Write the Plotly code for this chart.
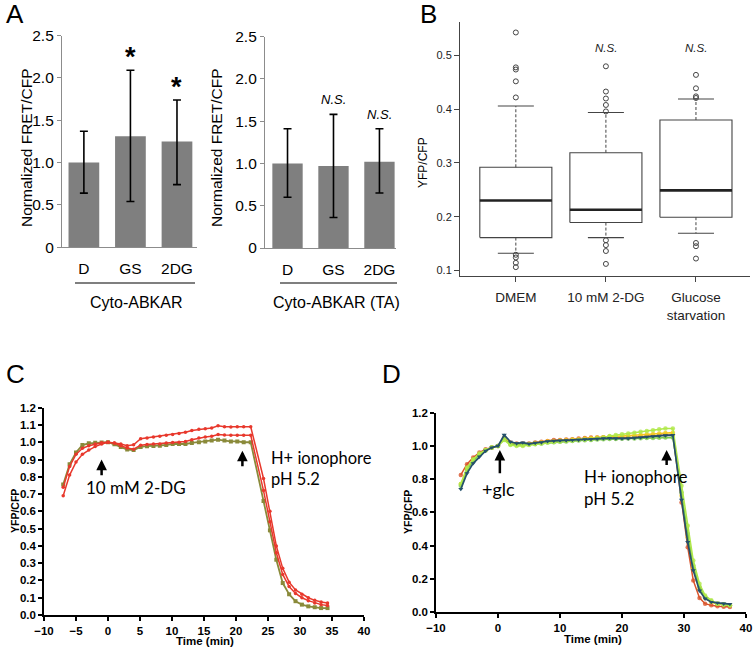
import plotly.graph_objects as go

W, H = 756, 650
def fx(p): return p / W
def fy(p): return 1 - p / H

ARIAL = "Liberation Sans, Arial, sans-serif"
CAL = "Lato, Carlito, sans-serif"

# ---------------- Panel A data ----------------
a_cats = ["D", "GS", "2DG"]
a_left_mean = [1.0, 1.31, 1.25]
a_left_low = [0.64, 0.54, 0.74]
a_left_high = [1.37, 2.09, 1.74]
a_left_sig = ["", "*", "*"]
a_right_mean = [1.0, 0.97, 1.02]
a_right_low = [0.60, 0.36, 0.65]
a_right_high = [1.41, 1.58, 1.41]
a_right_sig = ["", "N.S.", "N.S."]
a_yticks = [0, 0.5, 1.0, 1.5, 2.0, 2.5]
a_yticklabels = ["0", "0.5", "1.0", "1.5", "2.0", "2.5"]
a_left_group = "Cyto-ABKAR"
a_right_group = "Cyto-ABKAR (TA)"

# ---------------- Panel B data ----------------
b_groups = ["DMEM", "10 mM 2-DG", "Glucose<br>starvation"]
b_q1 = [0.161, 0.189, 0.199]
b_median = [0.230, 0.213, 0.249]
b_q3 = [0.292, 0.319, 0.380]
b_lower = [0.132, 0.161, 0.169]
b_upper = [0.406, 0.394, 0.419]
b_out_dmem = [0.543, 0.478, 0.474, 0.452, 0.422, 0.129, 0.124, 0.114, 0.106]
b_out_2dg = [0.480, 0.433, 0.420, 0.408, 0.396, 0.156, 0.147, 0.136, 0.112]
b_out_gs = [0.464, 0.439, 0.424, 0.421, 0.151, 0.145, 0.122]
b_sig = ["", "N.S.", "N.S."]
b_yticks = [0.1, 0.2, 0.3, 0.4, 0.5]

# ---------------- Panel C data ----------------
c_time = [-7.0, -6.0, -5.0, -4.0, -3.0, -2.0, -1.0, 0.0, 1.0, 2.0, 3.0, 4.0,
          5.1, 6.1, 7.1, 8.1, 9.1, 10.1, 11.1, 12.1, 13.1, 14.2, 15.2, 16.2,
          17.2, 18.2, 19.2, 20.2, 21.2, 22.3,
          24.3, 25.3, 26.3, 27.3, 28.3, 29.3, 30.3, 31.3, 32.3, 33.3, 34.3]
c_red1 = [0.69, 0.81, 0.885, 0.93, 0.955, 0.975, 0.99, 1.0, 0.995, 0.99, 0.98, 0.985,
          1.02, 1.025, 1.03, 1.035, 1.04, 1.045, 1.05, 1.058, 1.068, 1.075, 1.078, 1.082,
          1.095, 1.09, 1.088, 1.09, 1.09, 1.09,
          0.79, 0.60, 0.40, 0.27, 0.19, 0.145, 0.12, 0.10, 0.085, 0.075, 0.07]
c_red2 = [0.74, 0.86, 0.93, 0.965, 0.98, 0.99, 0.997, 1.0, 0.995, 0.98, 0.967, 0.96,
          0.983, 0.987, 0.99, 0.99, 0.996, 0.998, 1.0, 1.005, 1.015, 1.025, 1.03, 1.035,
          1.045, 1.042, 1.04, 1.04, 1.04, 1.04,
          0.72, 0.54, 0.36, 0.235, 0.165, 0.125, 0.10, 0.083, 0.07, 0.06, 0.055]
c_olive = [0.755, 0.872, 0.94, 0.984, 0.994, 0.997, 0.999, 1.0, 0.988, 0.973, 0.958, 0.955,
           0.973, 0.977, 0.978, 0.98, 0.984, 0.99, 0.99, 0.99, 0.996, 1.0, 1.005, 1.01,
           1.015, 1.01, 1.005, 1.005, 1.0, 1.0,
           0.66, 0.49, 0.32, 0.185, 0.12, 0.08, 0.06, 0.05, 0.045, 0.04, 0.04]

# ---------------- Panel D data ----------------
d_time = [-6, -5, -4, -3, -2, -1, 0, 1, 2, 3, 4, 5, 6, 7, 8, 9, 10, 11, 12, 13, 14,
          15, 16, 17, 18, 19, 20, 21, 22, 23, 24, 25, 26, 27, 28.2,
          29.6, 30.6, 31.5, 32.5, 33.4, 34.4, 35.4, 36.4, 37.4]
d_red = [0.825, 0.89, 0.93, 0.96, 0.98, 0.99, 1.0, 1.045, 1.02, 1.015, 1.015, 1.015, 1.02,
         1.025, 1.03, 1.035, 1.035, 1.038, 1.04, 1.045, 1.048, 1.05, 1.05, 1.052, 1.055,
         1.05, 1.05, 1.05, 1.052, 1.055, 1.058, 1.06, 1.062, 1.065, 1.065,
         0.66, 0.39, 0.19, 0.085, 0.05, 0.04, 0.035, 0.032, 0.03]
d_yellow = [0.77, 0.86, 0.915, 0.95, 0.975, 0.99, 1.0, 1.05, 1.015, 1.01, 1.01, 1.012, 1.018,
            1.022, 1.028, 1.03, 1.033, 1.035, 1.038, 1.04, 1.044, 1.047, 1.05, 1.052, 1.055,
            1.056, 1.058, 1.06, 1.063, 1.066, 1.069, 1.072, 1.075, 1.078, 1.08,
            0.70, 0.45, 0.26, 0.14, 0.085, 0.06, 0.05, 0.045, 0.04]
d_green = [0.76, 0.855, 0.91, 0.945, 0.972, 0.99, 1.0, 1.04, 1.01, 1.005, 1.005, 1.008, 1.012,
           1.015, 1.02, 1.022, 1.025, 1.027, 1.03, 1.032, 1.034, 1.036, 1.038, 1.04, 1.041,
           1.042, 1.043, 1.044, 1.045, 1.046, 1.047, 1.048, 1.049, 1.05, 1.05,
           0.72, 0.47, 0.28, 0.15, 0.09, 0.065, 0.05, 0.045, 0.04]
d_lgreen = [0.77, 0.87, 0.92, 0.955, 0.975, 0.99, 1.0, 1.035, 1.005, 1.0, 1.0, 1.005, 1.01,
            1.015, 1.02, 1.023, 1.026, 1.03, 1.033, 1.036, 1.038, 1.04, 1.045, 1.05, 1.06,
            1.065, 1.07, 1.075, 1.08, 1.085, 1.09, 1.095, 1.1, 1.105, 1.105,
            0.76, 0.52, 0.31, 0.17, 0.10, 0.07, 0.05, 0.045, 0.04]
d_navy = [0.74, 0.835, 0.895, 0.935, 0.97, 0.99, 1.0, 1.066, 1.025, 1.015, 1.02, 1.012, 1.018,
          1.02, 1.028, 1.03, 1.032, 1.033, 1.035, 1.036, 1.04, 1.04, 1.042, 1.045, 1.047,
          1.045, 1.044, 1.045, 1.048, 1.05, 1.055, 1.058, 1.06, 1.063, 1.065,
          0.675, 0.42, 0.25, 0.128, 0.08, 0.06, 0.055, 0.05, 0.048]

fig = go.Figure()

# ---------------- Panel A traces ----------------
def add_bars(means, lows, highs, xa, ya):
    fig.add_trace(go.Bar(
        x=list(range(len(means))), y=means, width=0.66,
        marker=dict(color="#7f7f7f", line=dict(width=0)),
        error_y=dict(type="data", symmetric=False,
                     array=[h - m for h, m in zip(highs, means)],
                     arrayminus=[m - l for m, l in zip(means, lows)],
                     color="black", thickness=1.6, width=4),
        xaxis=xa, yaxis=ya, showlegend=False, hoverinfo="skip"))

add_bars(a_left_mean, a_left_low, a_left_high, "x", "y")
add_bars(a_right_mean, a_right_low, a_right_high, "x2", "y2")

annotations = []
for i, s in enumerate(a_left_sig):
    if s:
        annotations.append(dict(x=i, y=a_left_high[i] + 0.2, xref="x", yref="y", text=s,
                                showarrow=False, yshift=-4,
                                font=dict(family=ARIAL, size=27, color="black", weight="bold")))
for i, s in enumerate(a_right_sig):
    if s:
        annotations.append(dict(x=i, y=a_right_high[i] + 0.17, xref="x2", yref="y2",
                                text="<i>" + s + "</i>", showarrow=False,
                                font=dict(family=ARIAL, size=13, color="black")))

# ---------------- Panel B traces ----------------
outs = [b_out_dmem, b_out_2dg, b_out_gs]
for i in range(len(b_groups)):
    c = i + 1
    hw = 0.4
    fig.add_trace(go.Scatter(
        x=[c - hw, c + hw, c + hw, c - hw, c - hw],
        y=[b_q1[i], b_q1[i], b_q3[i], b_q3[i], b_q1[i]],
        mode="lines", line=dict(color="#444", width=1.1),
        xaxis="x3", yaxis="y3", showlegend=False, hoverinfo="skip"))
    fig.add_trace(go.Scatter(
        x=[c - hw, c + hw], y=[b_median[i], b_median[i]],
        mode="lines", line=dict(color="#222", width=2.6),
        xaxis="x3", yaxis="y3", showlegend=False, hoverinfo="skip"))
    for a, b in ((b_q3[i], b_upper[i]), (b_q1[i], b_lower[i])):
        fig.add_trace(go.Scatter(
            x=[c, c], y=[a, b], mode="lines",
            line=dict(color="#444", width=1, dash="3px,2px"),
            xaxis="x3", yaxis="y3", showlegend=False, hoverinfo="skip"))
        fig.add_trace(go.Scatter(
            x=[c - 0.2, c + 0.2], y=[b, b], mode="lines",
            line=dict(color="#444", width=1.1),
            xaxis="x3", yaxis="y3", showlegend=False, hoverinfo="skip"))
    fig.add_trace(go.Scatter(
        x=[c] * len(outs[i]), y=outs[i], mode="markers",
        marker=dict(symbol="circle-open", size=5, color="#444", line=dict(width=1)),
        xaxis="x3", yaxis="y3", showlegend=False, hoverinfo="skip"))
    if b_sig[i]:
        annotations.append(dict(x=c, y=0.515, xref="x3", yref="y3",
                                text="<i>" + b_sig[i] + "</i>", showarrow=False,
                                font=dict(family=ARIAL, size=11.5, color="#222")))

# ---------------- Panel C traces ----------------
fig.add_trace(go.Scatter(x=c_time, y=c_olive, mode="lines+markers",
                         line=dict(color="#8a8a3a", width=1.8),
                         marker=dict(symbol="square", size=4, color="#8a8a3a"),
                         xaxis="x4", yaxis="y4", showlegend=False, hoverinfo="skip"))
fig.add_trace(go.Scatter(x=c_time, y=c_red2, mode="lines+markers",
                         line=dict(color="#e8382c", width=1.5),
                         marker=dict(symbol="circle", size=3.5, color="#e8382c"),
                         xaxis="x4", yaxis="y4", showlegend=False, hoverinfo="skip"))
fig.add_trace(go.Scatter(x=c_time, y=c_red1, mode="lines+markers",
                         line=dict(color="#e8382c", width=1.5),
                         marker=dict(symbol="circle", size=3.5, color="#e8382c"),
                         xaxis="x4", yaxis="y4", showlegend=False, hoverinfo="skip"))

# ---------------- Panel D traces ----------------
for ys, col in ((d_red, "#d9542b"), (d_yellow, "#f2c81e"), (d_green, "#7cc94a"),
                (d_lgreen, "#b0e84a")):
    fig.add_trace(go.Scatter(x=d_time, y=ys, mode="lines+markers",
                             line=dict(color=col, width=1.5),
                             marker=dict(symbol="circle", size=4.5, color=col, opacity=0.8),
                             xaxis="x5", yaxis="y5", showlegend=False, hoverinfo="skip"))
fig.add_trace(go.Scatter(x=d_time, y=d_navy, mode="lines+markers",
                         line=dict(color="#24506b", width=1.7),
                         marker=dict(symbol="triangle-down", size=4.5, color="#24506b"),
                         xaxis="x5", yaxis="y5", showlegend=False, hoverinfo="skip"))

# ---------------- Axes ----------------
def a_xaxis(dom, rng):
    return dict(domain=dom, range=rng, tickvals=[0, 1, 2], ticktext=a_cats, ticks="",
                showline=True, linecolor="#8c8c8c", linewidth=1.2, showgrid=False,
                zeroline=False, ticklabelstandoff=7, automargin=False,
                tickfont=dict(family=ARIAL, size=15.5, color="black"))

def a_yaxis(dom, anchor):
    return dict(domain=dom, range=[0, 2.5], tickvals=a_yticks, ticktext=a_yticklabels,
                ticks="outside", ticklen=4, tickcolor="#8c8c8c", showline=True,
                linecolor="#8c8c8c", linewidth=1.2, showgrid=False, zeroline=False,
                anchor=anchor, automargin=False,
                tickfont=dict(family=ARIAL, size=15.5, color="black"))

common_cd = dict(ticks="outside", ticklen=4, tickwidth=1.5, tickcolor="black", showline=True,
                 linecolor="black", linewidth=1.5, showgrid=False, zeroline=False,
                 automargin=False,
                 tickfont=dict(family=ARIAL, size=11.5, color="black", weight="bold"))

layout = dict(
    template="none",
    width=W, height=H, margin=dict(l=0, r=0, t=0, b=0, autoexpand=False),
    paper_bgcolor="white", plot_bgcolor="white", showlegend=False,
    xaxis=a_xaxis([fx(62), fx(197)], [-0.47, 2.43]),
    yaxis=a_yaxis([fy(247.3), fy(35.6)], "x"),
    xaxis2=dict(a_xaxis([fx(265), fx(396)], [-0.49, 2.36]), anchor="y2"),
    yaxis2=a_yaxis([fy(248), fy(36.5)], "x2"),
    xaxis3=dict(domain=[fx(460), fx(750)], range=[0.38, 3.6], anchor="y3",
                tickvals=[1, 2, 3], ticktext=b_groups, ticks="outside", ticklen=5,
                tickcolor="#444", showline=True, linecolor="#444", linewidth=1.1,
                showgrid=False, zeroline=False, ticklabelstandoff=4, automargin=False,
                tickfont=dict(family=ARIAL, size=13.5, color="#222")),
    yaxis3=dict(domain=[fy(276), fy(22)], range=[0.0895, 0.5625], anchor="x3",
                tickvals=b_yticks, ticks="outside", ticklen=5, tickcolor="#444",
                showline=True, linecolor="#444", linewidth=1.1, showgrid=False,
                zeroline=False, tickformat=".1f", automargin=False,
                tickfont=dict(family=ARIAL, size=11, color="#222")),
    xaxis4=dict(domain=[fx(44), fx(364)], range=[-10, 40], anchor="y4",
                tickvals=list(range(-10, 41, 5)), **common_cd),
    yaxis4=dict(domain=[fy(615), fy(407.7)], range=[0, 1.2], anchor="x4",
                tickvals=[i / 10 for i in range(13)], tickformat=".1f", **common_cd),
    xaxis5=dict(domain=[fx(436), fx(746)], range=[-10, 40], anchor="y5",
                tickvals=list(range(-10, 41, 10)), **common_cd),
    yaxis5=dict(domain=[fy(612), fy(412.7)], range=[0, 1.2], anchor="x5",
                tickvals=[0, 0.2, 0.4, 0.6, 0.8, 1.0, 1.2], tickformat=".1f", **common_cd),
)

def ptext(x, y, text, size, family=ARIAL, angle=0, weight="normal", xanchor="center"):
    annotations.append(dict(x=fx(x), y=fy(y), xref="paper", yref="paper", text=text,
                            showarrow=False, textangle=angle, xanchor=xanchor, yanchor="middle",
                            font=dict(family=family, size=size, color="black", weight=weight)))

# panel letters
ptext(15, 14, "A", 26)
ptext(428, 14, "B", 26)
ptext(15, 374, "C", 26)
ptext(391, 374, "D", 26)

# axis titles
ptext(27, 148, "Normalized FRET/CFP", 15.5, angle=-90)
ptext(217, 148, "Normalized FRET/CFP", 15.5, angle=-90)
ptext(136, 302, a_left_group, 16)
ptext(336, 302, a_right_group, 16)
ptext(423, 163, "YFP/CFP", 12, angle=-90)
ptext(15, 511, "YFP/CFP", 10.5, angle=-90, weight="bold")
ptext(205, 641, "Time (min)", 11.5, weight="bold")
ptext(408, 512, "YFP/CFP", 10.5, angle=-90, weight="bold")
ptext(593, 639, "Time (min)", 11.5, weight="bold")

shapes = [
    dict(type="line", xref="paper", yref="paper", x0=fx(75), x1=fx(195), y0=fy(283), y1=fy(283),
         line=dict(color="black", width=1.2)),
    dict(type="line", xref="paper", yref="paper", x0=fx(280), x1=fx(397), y0=fy(283), y1=fy(283),
         line=dict(color="black", width=1.2)),
]

def arrow(xr, yr, x, y0, y1):
    annotations.append(dict(x=x, y=y1, ax=x, ay=y0, xref=xr, yref=yr, axref=xr, ayref=yr,
                            showarrow=True, arrowhead=2, arrowsize=0.85, arrowwidth=2.5,
                            arrowcolor="black", text="", standoff=0))

def dtext(xr, yr, x, y, text, size, xanchor="center", align="center"):
    annotations.append(dict(x=x, y=y, xref=xr, yref=yr, text=text, showarrow=False,
                            xanchor=xanchor, yanchor="middle", align=align,
                            font=dict(family=CAL, size=size, color="black")))

arrow("x4", "y4", -1.0, 0.80, 0.90)
arrow("x4", "y4", 21.0, 0.853, 0.951)
dtext("x4", "y4", 4.3, 0.737, "10 mM 2-DG", 17)
dtext("x4", "y4", 25.1, 0.85, "H+ ionophore<br>pH 5.2", 16.5, "left", "left")

arrow("x5", "y5", 0.3, 0.826, 0.976)
arrow("x5", "y5", 27.2, 0.876, 0.976)
dtext("x5", "y5", 0.1, 0.74, "+glc", 18)
dtext("x5", "y5", 13.5, 0.75, "H+ ionophore<br>pH 5.2", 17, "left", "left")

layout["annotations"] = annotations
layout["shapes"] = shapes
fig.update_layout(**layout)
fig.write_html("out.html", config={"displayModeBar": False},
               post_script="document.body.style.margin='0';document.body.style.overflow='hidden';")
